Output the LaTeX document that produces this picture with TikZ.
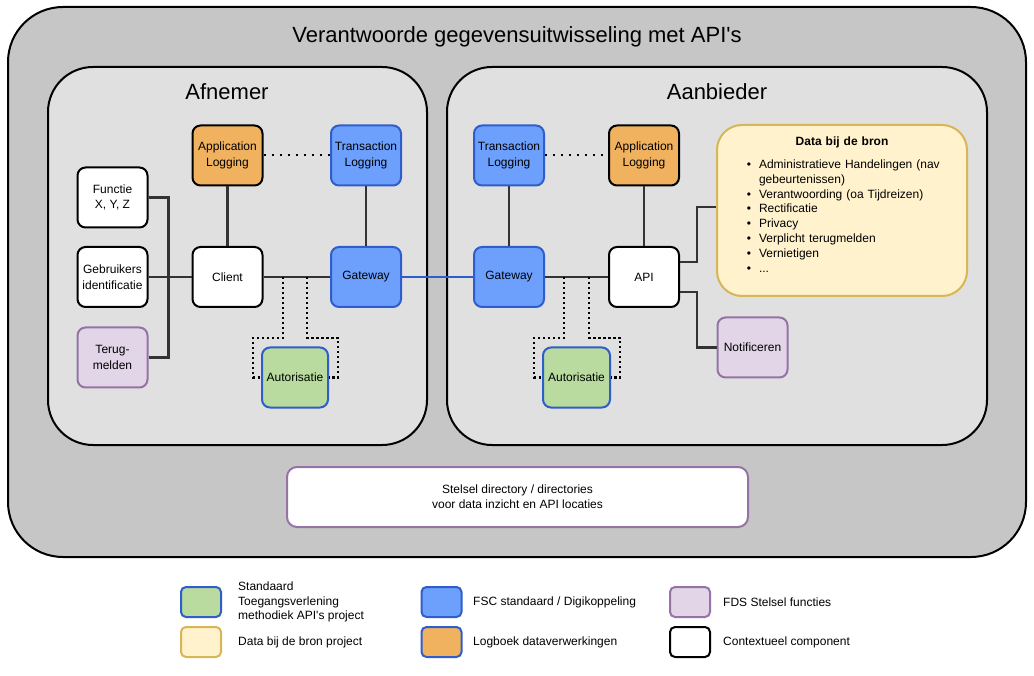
\documentclass[tikz,border=0pt]{standalone}
\usepackage{fontspec}
\setmainfont{Liberation Sans}[Ligatures=TeXOff]
\usetikzlibrary{positioning}

\definecolor{outergray}{HTML}{C6C6C6}
\definecolor{panelgray}{HTML}{E0E0E0}
\definecolor{logorange}{HTML}{F1B25F}
\definecolor{fscblue}{HTML}{6CA0FC}
\definecolor{fscborder}{HTML}{2F5ECC}
\definecolor{authgreen}{HTML}{B9DB9F}
\definecolor{fdsfill}{HTML}{E1D5E7}
\definecolor{fdsborder}{HTML}{9673A6}
\definecolor{bronfill}{HTML}{FFF2CC}
\definecolor{bronborder}{HTML}{D6B656}
\definecolor{lijn}{HTML}{333333}

\tikzset{
  comp/.style={draw, line width=2pt, rounded corners=8pt, minimum width=70pt,
    minimum height=60pt, inner sep=1pt, align=center,
    font=\fontsize{12}{15.5}\selectfont},
  ctx/.style={comp, draw=black, fill=white},
  applog/.style={comp, draw=black, fill=logorange},
  fsc/.style={comp, draw=fscborder, fill=fscblue},
  auth/.style={comp, draw=fscborder, fill=authgreen, minimum width=66pt},
  fds/.style={comp, draw=fdsborder, fill=fdsfill},
  legbox/.style={draw, line width=2pt, rounded corners=5pt, minimum width=40pt, minimum height=30pt},
  legtext/.style={anchor=west, align=left, inner sep=0pt, font=\fontsize{12}{14.5}\selectfont},
  conn/.style={draw=lijn, line width=2.2pt},
  blueconn/.style={draw=fscborder, line width=2pt},
  logdots/.style={draw=black, line width=2pt, dash pattern=on 2pt off 6pt},
  authdots/.style={draw=black, line width=2.5pt, dash pattern=on 2.5pt off 2.5pt}
}

\begin{document}
\begin{tikzpicture}[x=1pt,y=-1pt]
\useasboundingbox (0,0) rectangle (1034,676);

% containers
\node[draw=black, line width=2pt, fill=outergray, rounded corners=55pt,
  minimum width=1018pt, minimum height=550pt] (outer) at (517,282) {};
\node[font=\fontsize{22}{26}\selectfont] (title) at (517,37) {Verantwoorde gegevensuitwisseling met API's};

\node[draw=black, line width=2pt, fill=panelgray, rounded corners=45pt,
  minimum width=379pt, minimum height=378pt] (afnemer) at (237.5,256) {};
\node[draw=black, line width=2pt, fill=panelgray, rounded corners=45pt,
  minimum width=540pt, minimum height=378pt] (aanbieder) at (717,256) {};
\node[font=\fontsize{22}{26}\selectfont] (afnemertitle) at (227,92) {Afnemer};
\node[font=\fontsize{22}{26}\selectfont] (aanbiedertitle) at (717,92) {Aanbieder};

% afnemer
\node[applog] (applogL) at (227.5,155.5) {Application\\Logging};
\node[fsc] (translogL) at (366,155.5) {Transaction\\Logging};
\node[ctx] (functie) at (112.5,197.5) {Functie\\X, Y, Z};
\node[ctx] (gebruikers) at (112.5,277) {Gebruikers\\identificatie};
\node[fds] (terug) at (112.5,357.5) {Terug-\\melden};
\node[ctx] (client) at (227.5,277) {Client};
\node[fsc] (gatewayL) at (366,277) {Gateway};
\node[auth] (autorL) at (295,377.5) {Autorisatie};

% aanbieder
\node[fsc] (translogR) at (509,155.5) {Transaction\\Logging};
\node[applog] (applogR) at (644,155.5) {Application\\Logging};
\node[fsc] (gatewayR) at (509,277) {Gateway};
\node[ctx] (api) at (644,277) {API};
\node[auth, minimum width=67pt] (autorR) at (576.5,377.5) {Autorisatie};
\node[fds] (notif) at (752.5,347.5) {Notificeren};
\node[draw=bronborder, line width=2pt, fill=bronfill, rounded corners=25pt,
  minimum width=250pt, minimum height=171pt, text width=220pt, inner xsep=15pt,
  align=left, font=\fontsize{12}{14.8}\selectfont] (bron) at (842,210.5)
  {{\centering\textbf{Data bij de bron}\par}\vspace{8pt}
   \begin{list}{\textbullet}{\setlength{\leftmargin}{27pt}\setlength{\labelsep}{8pt}%
     \setlength{\itemsep}{0pt}\setlength{\parsep}{0pt}\setlength{\topsep}{0pt}\setlength{\partopsep}{0pt}}
   \item Administratieve Handelingen (nav gebeurtenissen)
   \item Verantwoording (oa Tijdreizen)
   \item Rectificatie
   \item Privacy
   \item Verplicht terugmelden
   \item Vernietigen
   \item ...
   \end{list}\par\vspace{12pt}\hrule height 0pt width 0pt};

\node[draw=fdsborder, line width=2pt, fill=white, rounded corners=10pt,
  minimum width=461pt, minimum height=60pt, align=center,
  font=\fontsize{12}{15}\selectfont] (stelsel) at (517.5,497)
  {Stelsel directory / directories\\voor data inzicht en API locaties};

% verbindingen afnemer
\draw[conn] (functie.east) -- ++(20,0) |- (terug.east);
\draw[conn] (gebruikers) -- (client);
\draw[conn] (applogL) -- (client);
\draw[conn] (translogL) -- (gatewayL);
\draw[conn] (client) -- (gatewayL);
\draw[logdots] (applogL) -- (translogL);
\coordinate (tapL1) at (283,277);
\coordinate (tapL2) at (307,277);
\draw[authdots] (tapL1) |- ++(-30,61) |- (autorL.west);
\draw[authdots] (tapL2) |- ++(31,61) |- (autorL.east);

% verbindingen aanbieder
\draw[blueconn] (gatewayL) -- (gatewayR);
\draw[conn] (translogR) -- (gatewayR);
\draw[conn] (applogR) -- (api);
\draw[conn] (gatewayR) -- (api);
\draw[logdots] (translogR) -- (applogR);
\coordinate (tapR1) at (564,277);
\coordinate (tapR2) at (589,277);
\draw[authdots] (tapR1) |- ++(-30,61) |- (autorR.west);
\draw[authdots] (tapR2) |- ++(31,61) |- (autorR.east);
\draw[conn] ([yshift=15pt]api.east) -- ++(17,0) |- ([yshift=3.5pt]bron.west);
\draw[conn] ([yshift=-15pt]api.east) -- ++(17,0) |- (notif.west);

% legenda
\node[legbox, draw=fscborder, fill=authgreen] (leg1) at (201,602) {};
\node[legtext] (leg1t) at (238,602) {Standaard\\Toegangsverlening\\methodiek API's project};
\node[legbox, draw=bronborder, fill=bronfill] (leg2) at (201,642) {};
\node[legtext] (leg2t) at (238,642) {Data bij de bron project};
\node[legbox, draw=fscborder, fill=fscblue] (leg3) at (441.5,602) {};
\node[legtext] (leg3t) at (473,602) {FSC standaard / Digikoppeling};
\node[legbox, draw=fscborder, fill=logorange] (leg4) at (441.5,642) {};
\node[legtext] (leg4t) at (473,642) {Logboek dataverwerkingen};
\node[legbox, draw=fdsborder, fill=fdsfill] (leg5) at (690,602) {};
\node[legtext] (leg5t) at (723,602) {FDS Stelsel functies};
\node[legbox, draw=black, fill=white] (leg6) at (690,642) {};
\node[legtext] (leg6t) at (723,642) {Contextueel component};
\end{tikzpicture}
\end{document}
